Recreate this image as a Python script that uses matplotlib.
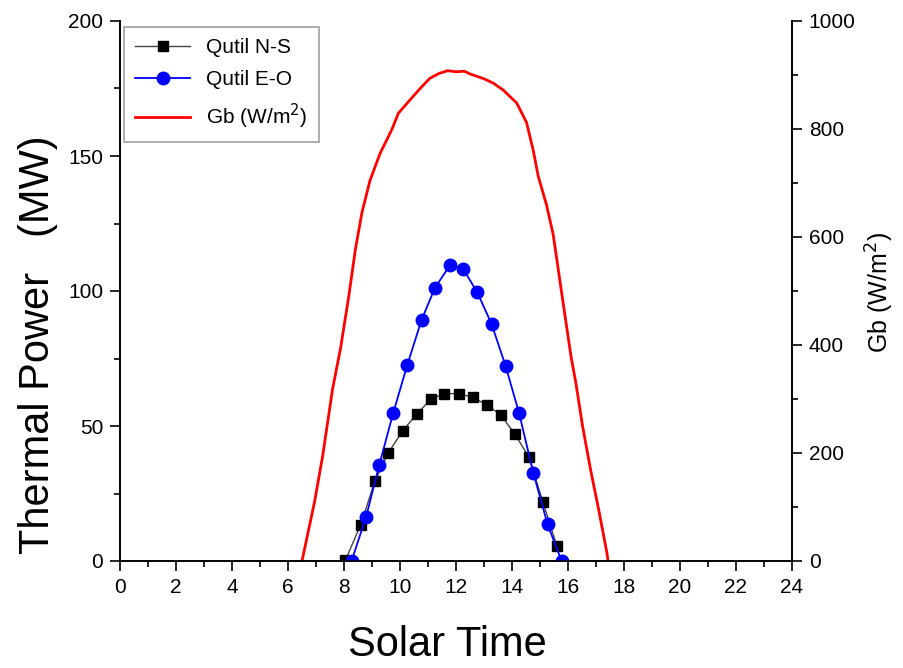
import matplotlib
matplotlib.use("Agg")
import matplotlib.pyplot as plt
from matplotlib.ticker import MultipleLocator

plt.rcParams['font.family'] = ['Liberation Sans', 'DejaVu Sans']

# Qutil N-S (MW)
t_ns = [8.05, 8.6, 9.1, 9.58, 10.1, 10.6, 11.1, 11.58, 12.1, 12.6, 13.1, 13.6, 14.1, 14.6, 15.1, 15.6]
q_ns = [0.3, 13.5, 29.5, 40.0, 48.3, 54.4, 59.9, 62.0, 62.0, 60.6, 57.8, 54.1, 47.0, 38.6, 22.0, 5.6]

# Qutil E-O (MW)
t_eo = [8.27, 8.79, 9.26, 9.76, 10.26, 10.77, 11.25, 11.79, 12.26, 12.76, 13.27, 13.77, 14.25, 14.76, 15.27, 15.77]
q_eo = [0.0, 16.4, 35.6, 54.9, 72.6, 89.3, 101.2, 109.6, 108.1, 99.5, 87.8, 72.3, 54.9, 32.7, 13.6, 0.0]

# Gb (W/m2)
t_gb = [6.5, 6.95, 7.24, 7.59, 7.88, 8.17, 8.41, 8.64, 8.93, 9.29, 9.70, 9.94, 10.36, 10.77,
        11.07, 11.4, 11.7, 12.0, 12.3, 12.5, 13.0, 13.33, 13.69, 14.17, 14.52, 14.76, 14.94,
        15.23, 15.47, 15.82, 16.11, 16.28, 16.52, 16.81, 17.10, 17.39, 17.43]
gb = [0, 110, 195, 318, 395, 490, 578, 645, 705, 755, 798, 829, 854, 878,
      894, 903, 908, 906, 907, 902, 893, 885, 872, 848, 812, 760, 712,
      660, 605, 480, 378, 330, 250, 168, 94, 15, 0]

fig = plt.figure(figsize=(9.04, 6.68), dpi=100)
ax = fig.add_axes([120/904, 1 - 561/668, 672/904, 540/668])
ax2 = ax.twinx()

ax.set_zorder(ax2.get_zorder() + 1)
ax.patch.set_visible(False)

l1, = ax.plot(t_ns, q_ns, color='#444444', lw=1.0, marker='s', ms=7.5,
              mfc='black', mec='black', label='Qutil N-S')
l2, = ax.plot(t_eo, q_eo, color='#0000ff', lw=1.3, marker='o', ms=9,
              mfc='#0000ff', mec='#0000ff', label='Qutil E-O')
l3, = ax2.plot(t_gb, gb, color='#ff0000', lw=2.0, label='Gb (W/m$^2$)')

ax.set_xlim(0, 24)
ax.set_ylim(0, 200)
ax2.set_ylim(0, 1000)

ax.xaxis.set_major_locator(MultipleLocator(2))
ax.xaxis.set_minor_locator(MultipleLocator(1))
ax.yaxis.set_major_locator(MultipleLocator(50))
ax.yaxis.set_minor_locator(MultipleLocator(25))
ax2.yaxis.set_major_locator(MultipleLocator(200))
ax2.yaxis.set_minor_locator(MultipleLocator(100))

for a in (ax, ax2):
    a.spines['top'].set_visible(False)
    for s in a.spines.values():
        s.set_linewidth(1.2)
    a.tick_params(which='major', length=7, width=1.2, direction='out', labelsize=15, pad=5)
    a.tick_params(which='minor', length=4, width=1.2, direction='out')

fig.text(447/904, 1 - 645/668, 'Solar Time', fontsize=30, ha='center', va='center')
fig.text(38/904, 1 - 345/668, 'Thermal Power   (MW)', fontsize=30, rotation=90,
         ha='center', va='center')
fig.text(880/904, 1 - 293/668, 'Gb (W/m$^2$)', fontsize=18, rotation=90,
         ha='center', va='center')

leg = ax.legend(handles=[l1, l2, l3], loc='upper left', bbox_to_anchor=(0.006, 0.989),
                borderaxespad=0, fontsize=15, frameon=True, fancybox=False,
                handlelength=2.6, borderpad=0.55, labelspacing=0.6)
leg.get_frame().set_edgecolor('#888888')
leg.get_frame().set_linewidth(1.2)

fig.savefig('out.png', dpi=100)
